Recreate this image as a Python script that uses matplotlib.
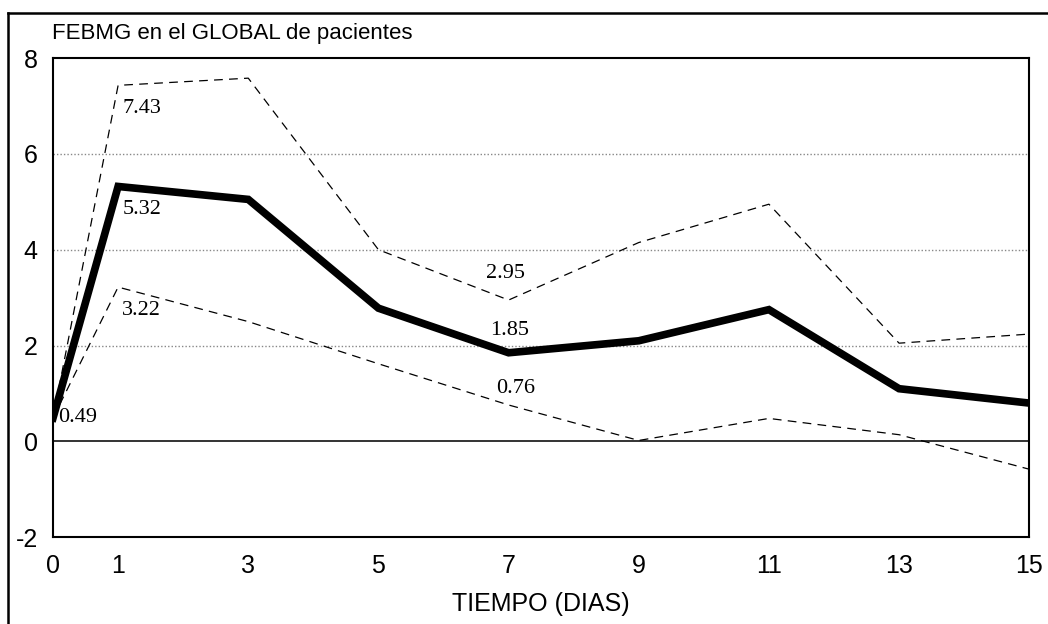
import matplotlib.pyplot as plt
from matplotlib.lines import Line2D

plt.rcParams['axes.unicode_minus'] = False

dias = [0, 1, 3, 5, 7, 9, 11, 13, 15]
media = [0.49, 5.32, 5.05, 2.78, 1.85, 2.1, 2.75, 1.1, 0.8]
superior = [0.49, 7.43, 7.58, 4.0, 2.95, 4.15, 4.95, 2.05, 2.24]
inferior = [0.49, 3.22, 2.5, 1.62, 0.76, 0.02, 0.48, 0.14, -0.58]

etiquetas = [(1, 7.43), (1, 5.32), (1, 3.22), (0, 0.49), (7, 2.95), (7, 1.85), (7, 0.76)]
# desplazamiento (puntos) de cada etiqueta respecto a su punto
desplaz = [(3, -10), (3, -10), (3, -10), (4, 0), (-2, 12), (1, 9), (5, 5)]

fig = plt.figure(figsize=(10.48, 6.24), dpi=100)
ax = fig.add_axes([0.0506, 0.139, 0.9315, 0.768])

# rejilla punteada y linea del cero
for g in [2, 4, 6]:
    ax.axhline(g, color='#888888', lw=1, ls=(0, (1, 1.5)), zorder=1)
ax.axhline(0, color='#333333', lw=1.4, zorder=1)

ax.plot(dias, superior, color='black', lw=0.9, ls=(0, (7, 5)), zorder=2)
ax.plot(dias, inferior, color='black', lw=0.9, ls=(0, (7, 5)), zorder=2)
ax.plot(dias, media, color='black', lw=5.5, solid_joinstyle='miter', zorder=3)

serif = 'Liberation Serif'
for (x, v), (dx, dy) in zip(etiquetas, desplaz):
    txt = f'{v:.2f}'
    if x == 1:
        ha, va = 'left', 'top'
    elif x == 0:
        ha, va = 'left', 'center'
    else:
        ha, va = 'center', 'bottom'
    ax.annotate(txt, (x, v), xytext=(dx, dy), textcoords='offset points',
                ha=ha, va=va, fontsize=16, family=serif)

ax.set_xlim(0, 15)
ax.set_ylim(-2, 8)
ax.set_xticks(dias)
ax.set_yticks([-2, 0, 2, 4, 6, 8])
ax.tick_params(length=0, labelsize=18)
for lab in ax.get_xticklabels() + ax.get_yticklabels():
    lab.set_family('Liberation Sans')
ax.tick_params(axis='y', pad=11)
ax.tick_params(axis='x', pad=12)
for s in ax.spines.values():
    s.set_linewidth(1.5)

ax.set_xlabel('TIEMPO (DIAS)', fontsize=18, family='Liberation Sans', labelpad=10)
fig.text(0.050, 0.946, 'FEBMG en el GLOBAL de pacientes', fontsize=16,
         family='Liberation Sans', ha='left', va='center')

# marco exterior
fig.add_artist(Line2D([0.008, 0.008], [0.0, 0.979], color='black', lw=1.8))
fig.add_artist(Line2D([0.008, 1.0], [0.979, 0.979], color='black', lw=1.8))

fig.savefig('out.png', dpi=100)
